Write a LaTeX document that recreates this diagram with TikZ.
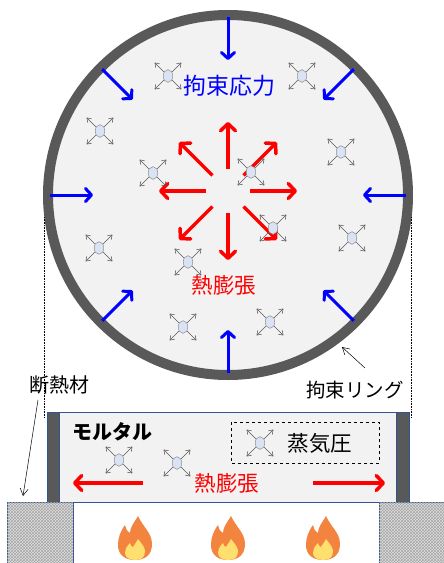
\documentclass[tikz,border=0pt]{standalone}
\usepackage{fontspec}
\setmainfont{Noto Sans CJK JP}
\usetikzlibrary{arrows.meta,calc,patterns}
\definecolor{ringgray}{HTML}{595959}
\definecolor{panel}{HTML}{F2F2F2}
\definecolor{edgeblue}{HTML}{2F5597}
\definecolor{molfill}{HTML}{DAE3F3}
\definecolor{molline}{HTML}{595959}
\definecolor{flameout}{HTML}{F2843F}
\definecolor{flamein}{HTML}{FFDF6E}
\definecolor{pureblue}{RGB}{0,0,255}
\definecolor{purered}{RGB}{255,0,0}
\tikzset{
  pressarrow/.style={pureblue, line width=3pt,
    -{Straight Barb[length=6pt,width=13pt,line cap=round,line join=round]}},
  expandarrow/.style={purered, line width=3.5pt,
    -{Straight Barb[length=7pt,width=15pt,line cap=round,line join=round]}},
  leader/.style={black, line width=0.5pt, -{Straight Barb[length=7pt,width=8pt]}},
  lbl/.style={inner sep=0pt},
  mol/.pic={
    \foreach \a in {45,135,225,315}{
      \draw[molline, line width=0.55pt,
        -{Straight Barb[length=4pt,width=5.5pt]}] (\a:5) -- (\a:19);
    }
    \draw[molline!80, line width=0.4pt, fill=molfill] (0,0) ellipse (4.8 and 6.3);
  },
  flame/.pic={
    \fill[flameout] (0,0) .. controls (11,0) and (17,-6) .. (17,-16)
      .. controls (17,-27) and (8,-33) .. (3,-44)
      .. controls (-1,-37) and (-5,-33) .. (-5,-27)
      .. controls (-8,-29) and (-10,-32) .. (-10,-35)
      .. controls (-15,-28) and (-17,-22) .. (-17,-15)
      .. controls (-17,-6) and (-11,0) .. (0,0) -- cycle;
    \fill[flamein] (0,0) .. controls (7,0) and (10,-3) .. (10,-9)
      .. controls (10,-13) and (6,-17) .. (3,-21)
      .. controls (1,-17) and (-1,-15) .. (-2,-13)
      .. controls (-4,-14) .. (-5,-17)
      .. controls (-9,-13) and (-10,-10) .. (-10,-7)
      .. controls (-10,-3) and (-6,0) .. (0,0) -- cycle;
  }
}
\begin{document}
\begin{tikzpicture}[x=1pt,y=-1pt]
\useasboundingbox (0,0) rectangle (444,563);

% restraint ring with mortar disc
\coordinate (c) at (228,195);
\coordinate (e) at (228,191);
\draw[ringgray, line width=10pt, fill=panel] (c) circle (180);

% projection lines down to the section
\draw[densely dotted, line width=0.6pt] (44,217) -- (44,418);
\draw[densely dotted, line width=0.6pt] (411,217) -- (411,418);

% inward restraint stress
\foreach \a in {0,45,...,315}{
  \draw[pressarrow] ($(c)+(\a:178)$) -- ($(c)+(\a:135)$);
}

% outward thermal expansion
\foreach \a in {0,45,...,315}{
  \draw[expandarrow] ($(e)+(\a:22)$) -- ($(e)+(\a:69)$);
}

% water molecules in the disc
\foreach \p in {(168,76),(302,76),(100,131),(341,152),(153,173),(251,172),
                (273,228),(352,238),(99,248),(188,262),(183,327),(270,322)}{
  \pic at \p {mol};
}

\node[lbl, pureblue, font=\fontsize{23}{26}\selectfont] (stress) at (229,86) {拘束応力};
\node[lbl, purered, font=\fontsize{21.5}{25}\selectfont] (expand) at (224,285) {熱膨張};

% ring label
\node[lbl, font=\fontsize{19.5}{23}\selectfont] (ringlbl) at (355,390) {拘束リング};
\coordinate (ringfoot) at (365,368);
\coordinate (ringtip) at (342,347);
\draw[leader] (ringfoot) -- (ringtip);

% insulation label
\node[lbl, font=\fontsize{20}{23}\selectfont] (insullbl) at (60,385) {断熱材};
\coordinate (insulfoot) at (38,400);
\coordinate (insultip) at (23,496);
\draw[leader] (insulfoot) -- (insultip);

% section: ring walls and mortar
\fill[ringgray] (47,412) rectangle (409,502);
\draw[edgeblue, line width=0.8pt, fill=panel] (59,412) rectangle (396,502);
\draw[edgeblue, line width=0.8pt] (47,412) rectangle (409,502);

% insulation blocks
\begin{scope}
  \clip (0,0) rectangle (444,563);
  \draw[edgeblue, line width=0.8pt, fill=gray!25,
        postaction={pattern=crosshatch, pattern color=gray!70}]
    (7,502) rectangle (73,566);
  \draw[edgeblue, line width=0.8pt, fill=gray!25,
        postaction={pattern=crosshatch, pattern color=gray!70}]
    (379,502) rectangle (450,566);
\end{scope}

% vapour pressure box
\draw[dashed, line width=0.9pt] (231,422) rectangle (379,463);
\node[lbl, font=\fontsize{21.5}{25}\selectfont] (vapour) at (320,443) {蒸気圧};
\pic at (260,443) {mol};

\node[lbl, font=\bfseries\fontsize{20}{24}\selectfont] (mortar) at (112,432) {モルタル};
\pic at (119,460) {mol};
\pic at (177,463) {mol};

% expansion in the section
\node[lbl, purered, font=\fontsize{21.5}{25}\selectfont] (expand2) at (227,483) {熱膨張};
\coordinate (lstart) at (143,483);
\coordinate (lend) at (73,483);
\coordinate (rstart) at (313,483);
\coordinate (rend) at (385,483);
\draw[expandarrow] (lstart) -- (lend);
\draw[expandarrow] (rstart) -- (rend);

% burners
\foreach \x in {135,228,323}{
  \pic at (\x,560) {flame};
}
\end{tikzpicture}
\end{document}
